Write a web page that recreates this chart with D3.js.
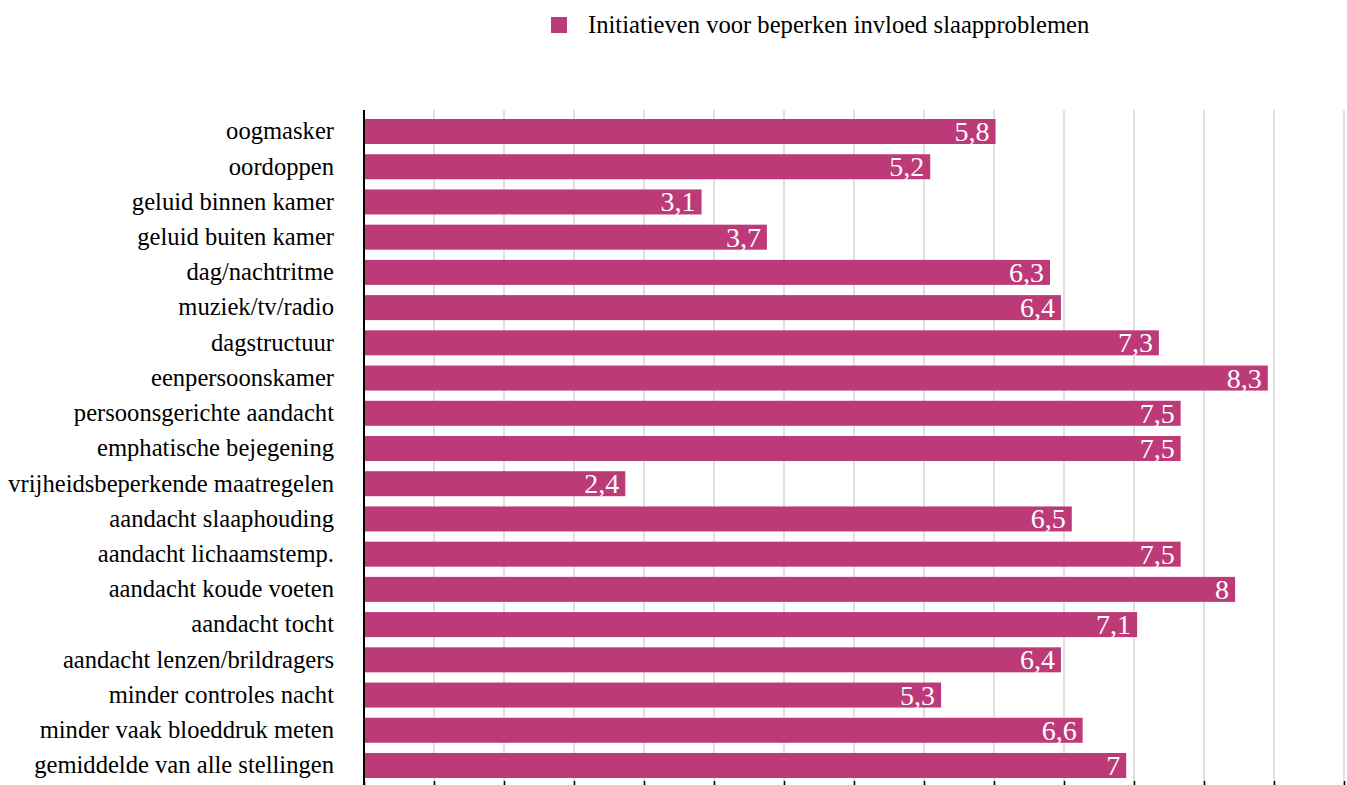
<!DOCTYPE html>
<html>
<head>
<meta charset="utf-8">
<script src="https://cdn.jsdelivr.net/npm/d3@7"></script>
<style>
  html, body { margin: 0; padding: 0; background: #fff; }
  svg { display: block; }
</style>
</head>
<body>
<svg id="chart" width="1347" height="785"></svg>
<script>
const categories = [
  "oogmasker",
  "oordoppen",
  "geluid binnen kamer",
  "geluid buiten kamer",
  "dag/nachtritme",
  "muziek/tv/radio",
  "dagstructuur",
  "eenpersoonskamer",
  "persoonsgerichte aandacht",
  "emphatische bejegening",
  "vrijheidsbeperkende maatregelen",
  "aandacht slaaphouding",
  "aandacht lichaamstemp.",
  "aandacht koude voeten",
  "aandacht tocht",
  "aandacht lenzen/brildragers",
  "minder controles nacht",
  "minder vaak bloeddruk meten",
  "gemiddelde van alle stellingen"
];
const values = [5.8, 5.2, 3.1, 3.7, 6.3, 6.4, 7.3, 8.3, 7.5, 7.5, 2.4, 6.5, 7.5, 8, 7.1, 6.4, 5.3, 6.6, 7];
const seriesName = "Initiatieven voor beperken invloed slaapproblemen";
const xMax = 9;
const gridCount = 14;

const FONT = "'Liberation Serif', 'Times New Roman', Times, serif";
const color = "#bc3a77";
const svg = d3.select("#chart");

const x = d3.scaleLinear().domain([0, xMax]).range([364, 1344]);
const y = d3.scaleBand().domain(categories).range([113.9, 783.1])
  .paddingInner(0.29).paddingOuter(0.145);

const nl = d3.formatLocale({decimal: ",", thousands: ".", grouping: [3], currency: ["€", ""]});
const fmt = nl.format("~g");

// gridlines
const gridVals = d3.range(0, gridCount + 1).map(i => i * xMax / gridCount);
svg.append("g").selectAll("line").data(gridVals.slice(1)).join("line")
  .attr("x1", d => x(d)).attr("x2", d => x(d))
  .attr("y1", 110).attr("y2", 785)
  .attr("stroke", "#cfcfcf").attr("stroke-width", 1.3);

// bottom ticks
const xAxis = d3.axisBottom(x).tickValues(gridVals).tickSize(-9).tickFormat("");
const gx = svg.append("g").attr("transform", "translate(0,790)").call(xAxis);
gx.select(".domain").remove();
gx.selectAll(".tick line").attr("stroke", "#000").attr("stroke-width", 1.5);

// bars
svg.append("g").selectAll("rect").data(values).join("rect")
  .attr("x", x(0))
  .attr("y", (d, i) => y(categories[i]))
  .attr("width", d => x(d) - x(0))
  .attr("height", y.bandwidth())
  .attr("fill", color);

// value labels
svg.append("g").selectAll("text").data(values).join("text")
  .attr("x", d => x(d) - 6)
  .attr("y", (d, i) => y(categories[i]) + y.bandwidth() - 3)
  .attr("text-anchor", "end")
  .attr("fill", "#fff")
  .style("font-family", FONT)
  .style("font-size", "28px")
  .text(d => fmt(d));

// category axis
const yAxis = d3.axisLeft(y).tickSize(0).tickPadding(30);
const gy = svg.append("g").attr("transform", `translate(${x(0)},0)`).call(yAxis);
gy.select(".domain").remove();
gy.selectAll(".tick text")
  .style("font-family", FONT)
  .style("font-size", "24.6px")
  .attr("dy", "0.32em")
  .attr("fill", "#000");

// vertical axis line
svg.append("line")
  .attr("x1", x(0)).attr("x2", x(0))
  .attr("y1", 110).attr("y2", 785)
  .attr("stroke", "#000").attr("stroke-width", 2);

// legend
const lg = svg.append("g");
lg.append("rect").attr("x", 551).attr("y", 17).attr("width", 16).attr("height", 16).attr("fill", color);
lg.append("text").attr("x", 588).attr("y", 33).attr("fill", "#000")
  .style("font-family", FONT).style("font-size", "24.6px").text(seriesName);
</script>
</body>
</html>
